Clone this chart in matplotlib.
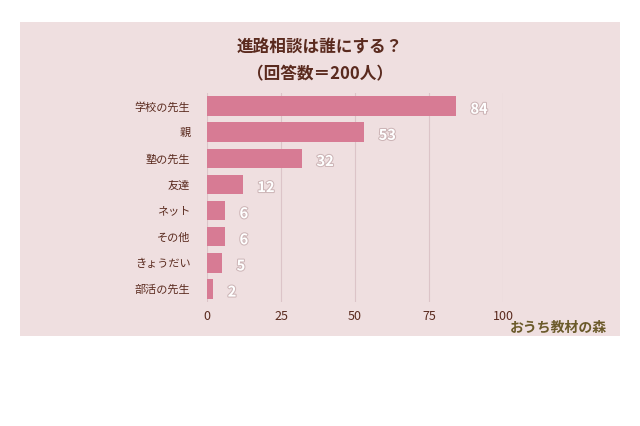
import matplotlib.pyplot as plt
import matplotlib.patheffects as pe
from matplotlib.patches import Rectangle

categories = ["学校の先生", "親", "塾の先生", "友達", "ネット", "その他", "きょうだい", "部活の先生"]
values = [84, 53, 32, 12, 6, 6, 5, 2]
ticks = [0, 25, 50, 75, 100]

plt.rcParams["font.family"] = "Noto Sans CJK JP"
bg = "#efdfe0"
bar_color = "#d77b94"
text_color = "#5a2a1e"

fig = plt.figure(figsize=(6.4, 4.26), dpi=100)
fig.patches.append(Rectangle((20 / 640, 1 - 336 / 426), 600 / 640, 314 / 426,
                             transform=fig.transFigure, facecolor=bg, edgecolor="none", zorder=-5))

ax = fig.add_axes([207 / 640, 1 - 302 / 426, 296 / 640, 209 / 426])
ax.set_zorder(2)
ax.set_facecolor("none")
y = list(range(len(categories)))
ax.barh(y, values, height=0.75, color=bar_color, zorder=2)
ax.set_xlim(0, 100)
ax.set_ylim(len(categories) - 0.5, -0.5)
ax.set_yticks(y)
ax.set_yticklabels(categories, fontsize=8, color=text_color)
ax.set_xticks(ticks)
ax.set_xticklabels([str(t) for t in ticks], fontsize=9, color=text_color)
ax.tick_params(length=0, pad=6)
ax.tick_params(axis="y", pad=12)
ax.grid(axis="x", color="#dcc4c8", linewidth=0.8, zorder=1)
for s in ax.spines.values():
    s.set_visible(False)

for yi, v in zip(y, values):
    ax.text(v + 5, yi + 0.1, str(v), va="center", ha="left", fontsize=10.5, fontweight="bold",
            color="white", path_effects=[pe.withStroke(linewidth=1.5, foreground="#b79a9c", alpha=0.6)],
            clip_on=False)

fig.text(0.5, 1 - 48 / 426, "進路相談は誰にする？", ha="center", va="center", fontsize=12,
         fontweight="bold", color=text_color)
fig.text(0.5, 1 - 74 / 426, "（回答数＝200人）", ha="center", va="center", fontsize=12,
         fontweight="bold", color=text_color)
fig.text(558 / 640, 1 - 328 / 426, "おうち教材の森", ha="center", va="center", fontsize=10,
         fontweight="bold", color="#6b5a2a")

fig.savefig("out.png", dpi=100, facecolor="white")
